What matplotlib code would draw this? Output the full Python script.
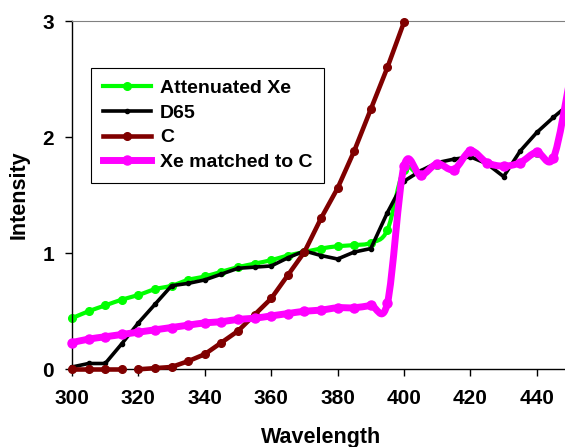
import numpy as np
import matplotlib
matplotlib.use("Agg")
import matplotlib.pyplot as plt
from matplotlib.path import Path
from matplotlib.patches import PathPatch
from matplotlib.lines import Line2D

plt.rcParams['font.family'] = ['Liberation Sans', 'DejaVu Sans']
plt.rcParams['font.weight'] = 'bold'

# wavelength grid (nm), 5 nm steps
wavelength = list(range(300, 455, 5))

attenuated_xe = [0.44, 0.50, 0.55, 0.60, 0.64, 0.69, 0.72, 0.77, 0.80, 0.84,
                 0.88, 0.91, 0.94, 0.98, 1.01, 1.04, 1.06, 1.07, 1.09, 1.20,
                 1.72, 1.67, 1.76, 1.72, 1.87, 1.78, 1.75, 1.78, 1.86, 1.82, 2.50]

d65 = [0.02, 0.05, 0.05, 0.22, 0.40, 0.56, 0.72, 0.74, 0.77, 0.82,
       0.87, 0.88, 0.89, 0.96, 1.02, 0.98, 0.95, 1.01, 1.04, 1.35,
       1.62, 1.71, 1.78, 1.81, 1.83, 1.77, 1.66, 1.88, 2.04, 2.17, 2.29]

# illuminant C, only up to 400 nm (beyond that it is off the scale)
c_wavelength = list(range(300, 405, 5))
illuminant_c = [0.00, 0.00, 0.00, 0.00, 0.00, 0.01, 0.02, 0.07, 0.13, 0.23,
                0.33, 0.47, 0.61, 0.81, 1.01, 1.30, 1.56, 1.88, 2.24, 2.60, 2.99]
c_break = 4  # line is broken between 315 and 320 nm

xe_matched_c = [0.23, 0.26, 0.28, 0.30, 0.32, 0.34, 0.36, 0.38, 0.40, 0.41,
                0.43, 0.44, 0.46, 0.48, 0.50, 0.51, 0.53, 0.53, 0.55, 0.57,
                1.75, 1.67, 1.77, 1.72, 1.88, 1.78, 1.75, 1.78, 1.87, 1.82, 2.50]

x_ticks = list(range(300, 460, 20))
y_ticks = [0, 1, 2, 3]

GREEN = '#00FF00'
DARKRED = '#800000'
MAGENTA = '#FF00FF'

# line width / marker size per series
STYLE = {
    'xe': dict(color=GREEN, lw=3.0, ms=5.5),
    'd65': dict(color='black', lw=2.6, ms=3.0),
    'c': dict(color=DARKRED, lw=3.3, ms=5.5),
    'match': dict(color=MAGENTA, lw=5.0, ms=6.5),
}


def smooth_path(x, y):
    # Excel-style smoothed line: cubic bezier through every point
    pts = np.column_stack([x, y]).astype(float)
    n = len(pts)
    verts = [pts[0]]
    codes = [Path.MOVETO]
    for i in range(n - 1):
        p0 = pts[max(i - 1, 0)]
        p1 = pts[i]
        p2 = pts[i + 1]
        p3 = pts[min(i + 2, n - 1)]
        verts += [p1 + (p2 - p0) / 6, p2 - (p3 - p1) / 6, p2]
        codes += [Path.CURVE4] * 3
    return Path(verts, codes)


def smooth_series(ax, x, y, st, z):
    ax.add_patch(PathPatch(smooth_path(x, y), fill=False, ec=st['color'],
                           lw=st['lw'], capstyle='round', joinstyle='round',
                           zorder=z, clip_on=False))
    ax.plot(x, y, ls='none', marker='o', ms=st['ms'], color=st['color'],
            zorder=z, clip_on=False)


fig = plt.figure(figsize=(5.65, 4.47), dpi=100)
ax = fig.add_axes([72 / 565, 1 - 369.3 / 447, (570 - 72) / 565, (369.3 - 21) / 447])

smooth_series(ax, wavelength, attenuated_xe, STYLE['xe'], 2)

st = STYLE['d65']
ax.plot(wavelength, d65, color=st['color'], lw=st['lw'], marker='o',
        ms=st['ms'], zorder=3, clip_on=False)

st = STYLE['c']
for xs, ys in ((c_wavelength[:c_break], illuminant_c[:c_break]),
               (c_wavelength[c_break:], illuminant_c[c_break:])):
    ax.plot(xs, ys, color=st['color'], lw=st['lw'], marker='o',
            ms=st['ms'], zorder=4, clip_on=False)

smooth_series(ax, wavelength, xe_matched_c, STYLE['match'], 5)

ax.set_xlim(300, 450)
ax.set_ylim(0, 3)
ax.set_xticks(x_ticks)
ax.set_yticks(y_ticks)
ax.tick_params(axis='both', direction='out', length=5, width=1,
               labelsize=15, colors='black')
ax.tick_params(axis='x', pad=9)
ax.tick_params(axis='y', pad=8)
for lab in ax.get_xticklabels() + ax.get_yticklabels():
    lab.set_fontweight('bold')

ax.spines['top'].set_color('#808080')
ax.spines['right'].set_visible(False)
for s in ('left', 'bottom'):
    ax.spines[s].set_color('black')
    ax.spines[s].set_linewidth(1)

ax.set_xlabel('Wavelength', fontsize=15.5, fontweight='bold', labelpad=14)
ax.set_ylabel('Intensity', fontsize=15.5, fontweight='bold', labelpad=9)

handles = [Line2D([], [], color=STYLE[k]['color'], lw=STYLE[k]['lw'],
                  marker='o', ms=STYLE[k]['ms'])
           for k in ('xe', 'd65', 'c', 'match')]
labels = ['Attenuated Xe', 'D65', 'C', 'Xe matched to C']
leg = ax.legend(handles, labels, loc='upper left',
                bbox_to_anchor=(19 / 498, (369.3 - 68) / 348.3),
                borderaxespad=0, fancybox=False, framealpha=1,
                edgecolor='black', prop={'size': 14, 'weight': 'bold'},
                handlelength=2.5, handletextpad=0.45, borderpad=0.6,
                labelspacing=0.36)
leg.get_frame().set_linewidth(0.8)
leg.set_zorder(10)

fig.savefig('out.png', dpi=100)
